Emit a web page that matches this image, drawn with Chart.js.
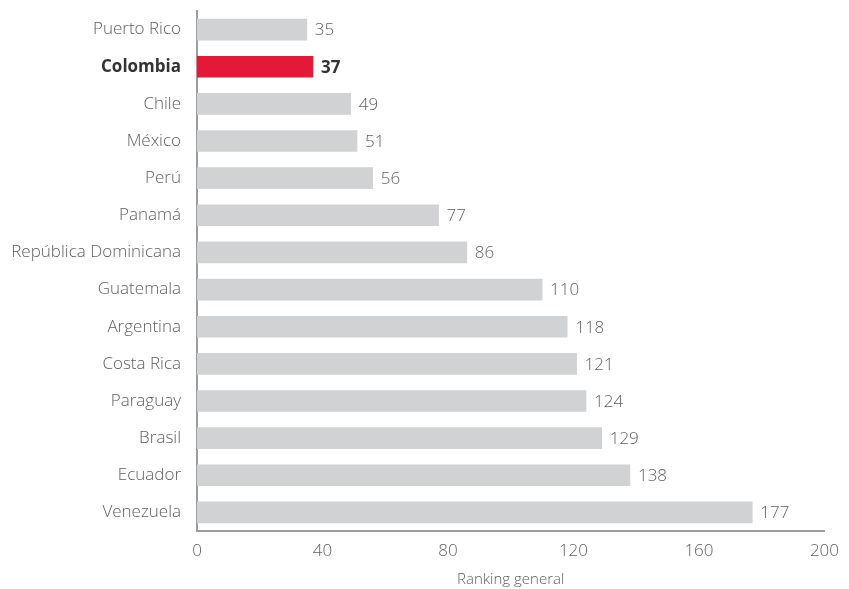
<!DOCTYPE html>
<html>
<head>
<meta charset="utf-8">
<script src="https://cdn.jsdelivr.net/npm/chart.js@4"></script>
<style>
html,body{margin:0;padding:0;background:#fff;}
#wrap{width:849px;height:589px;position:relative;}
</style>
</head>
<body>
<div id="wrap"><canvas id="c"></canvas></div>
<script>
const categories = ["Puerto Rico","Colombia","Chile","México","Perú","Panamá","República Dominicana","Guatemala","Argentina","Costa Rica","Paraguay","Brasil","Ecuador","Venezuela"];
const values = [35,37,49,51,56,77,86,110,118,121,124,129,138,177];
const xTicks = [0,40,80,120,160,200];
const highlight = "Colombia";

const FONT = "'Open Sans', 'DejaVu Sans', sans-serif";
const GRAY_TEXT = "#5f5f5f";

const labelPlugin = {
  id: 'valueLabels',
  afterDatasetsDraw(chart) {
    const ctx = chart.ctx;
    const meta = chart.getDatasetMeta(0);
    ctx.save();
    ctx.textBaseline = 'middle';
    ctx.textAlign = 'left';
    meta.data.forEach((bar, i) => {
      const hi = categories[i] === highlight;
      ctx.font = (hi ? '700 ' : '300 ') + '17px ' + FONT;
      ctx.fillStyle = hi ? '#333333' : GRAY_TEXT;
      ctx.fillText(String(values[i]), bar.x + 8, bar.y + 1);
    });
    ctx.restore();
  }
};

new Chart(document.getElementById('c'), {
  type: 'bar',
  data: {
    labels: categories,
    datasets: [{
      data: values,
      backgroundColor: categories.map(c => c === highlight ? '#e31937' : '#d1d2d4'),
      barThickness: 21,
      borderWidth: 0
    }]
  },
  options: {
    indexAxis: 'y',
    responsive: true,
    maintainAspectRatio: false,
    animation: false,
    layout: { padding: { top: 11, right: 21, bottom: 0, left: 0 } },
    plugins: { legend: { display: false }, tooltip: { enabled: false } },
    scales: {
      x: {
        min: 0, max: 200,
        afterBuildTicks(scale) { scale.ticks = xTicks.map(v => ({ value: v })); },
        grid: { display: false, drawTicks: false },
        border: { display: true, color: '#9d9d9f', width: 2 },
        ticks: { color: GRAY_TEXT, font: { family: FONT, size: 17, weight: '300' }, padding: 10, maxRotation: 0 },
        title: { display: true, text: 'Ranking general', color: GRAY_TEXT, font: { family: FONT, size: 15, weight: '300' }, padding: { top: 2, bottom: 0 } },
        afterFit(scale) { scale.height = 58; }
      },
      y: {
        grid: { display: false, drawTicks: false },
        border: { display: true, color: '#9d9d9f', width: 2 },
        ticks: {
          padding: 16,
          color: ctx => categories[ctx.index] === highlight ? '#333333' : GRAY_TEXT,
          font: ctx => ({ family: FONT, size: 17, weight: categories[ctx.index] === highlight ? '700' : '300' })
        },
        afterFit(scale) { scale.width = 197; scale.paddingTop = 0; scale.paddingBottom = 0; }
      }
    }
  },
  plugins: [labelPlugin]
});
</script>
</body>
</html>
